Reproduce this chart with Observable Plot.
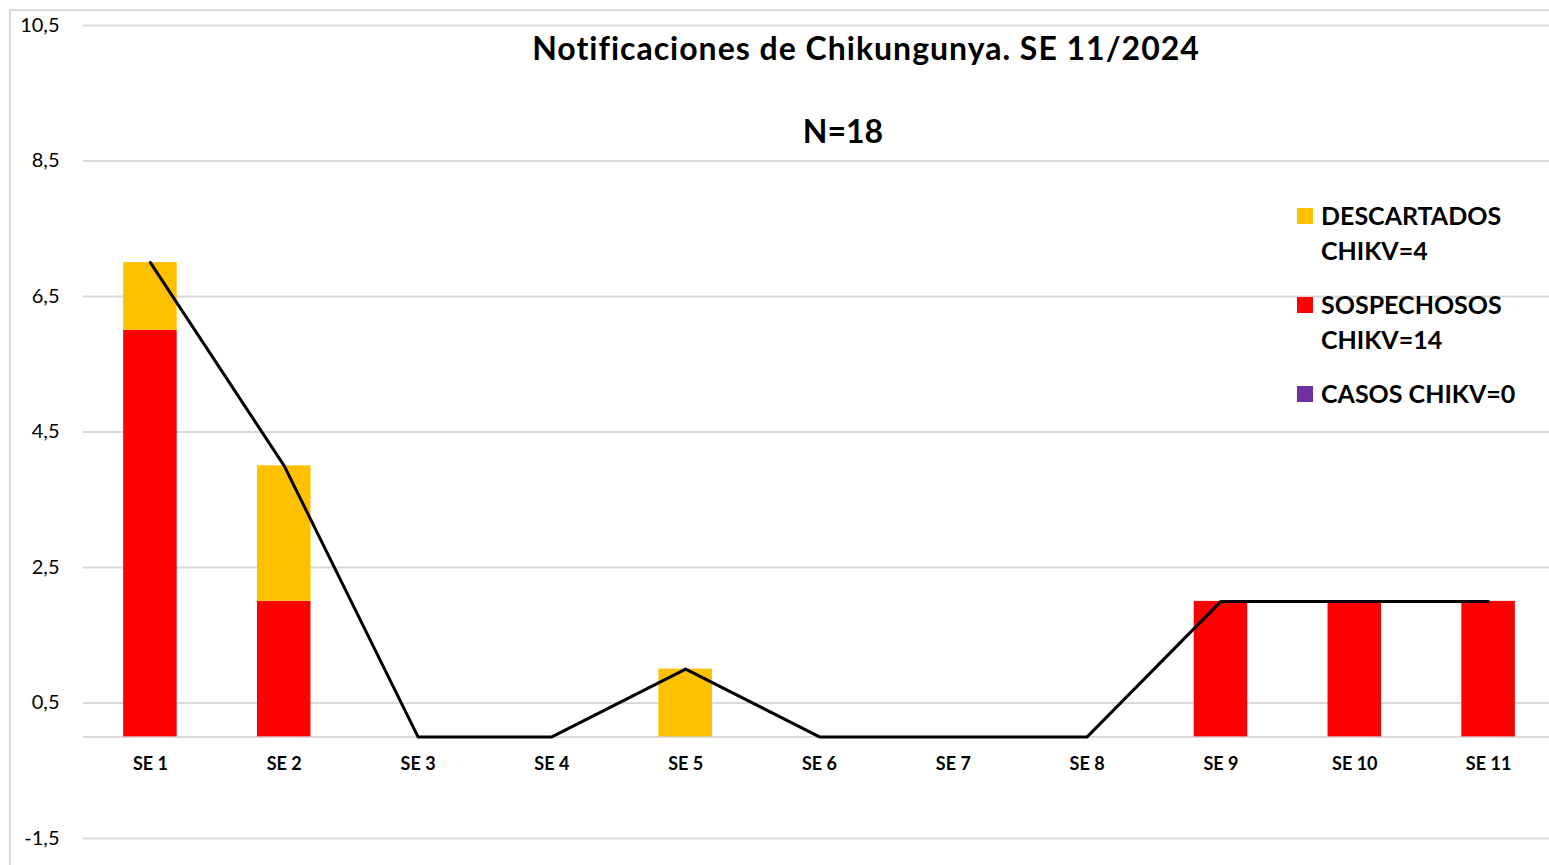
<!DOCTYPE html>
<html>
<head>
<meta charset="utf-8">
<script src="https://cdn.jsdelivr.net/npm/d3@7"></script>
<script src="https://cdn.jsdelivr.net/npm/@observablehq/plot@0.6"></script>
<style>
  html, body { margin: 0; padding: 0; background: #fff; overflow: hidden; }
  #wrap { position: relative; width: 1549px; height: 865px; }
  #border { position: absolute; left: 9px; top: 9px; width: 1600px; height: 900px;
            border-left: 2px solid #d9d9d9; border-top: 2px solid #d9d9d9; box-sizing: border-box; }
  #chart { position: absolute; left: 0; top: 0; }
</style>
</head>
<body>
<div id="wrap"><div id="border"></div><div id="chart"></div></div>
<script>
const weeks = ["SE 1","SE 2","SE 3","SE 4","SE 5","SE 6","SE 7","SE 8","SE 9","SE 10","SE 11"];
const sospechosos = [6, 2, 0, 0, 0, 0, 0, 0, 2, 2, 2];
const descartados = [1, 2, 0, 0, 1, 0, 0, 0, 0, 0, 0];
const casos       = [0, 0, 0, 0, 0, 0, 0, 0, 0, 0, 0];
const yTicks = [-1.5, 0.5, 2.5, 4.5, 6.5, 8.5, 10.5];
const seriesKeys = ["SOSPECHOSOS", "DESCARTADOS", "CASOS"];
const seriesColors = ["#ff0000", "#ffc000", "#7030a0"];
const legendItems = [
  {key: "DESCARTADOS", lines: ["DESCARTADOS", "CHIKV=4"]},
  {key: "SOSPECHOSOS", lines: ["SOSPECHOSOS", "CHIKV=14"]},
  {key: "CASOS", lines: ["CASOS CHIKV=0"]}
];
const titleText = "Notificaciones de Chikungunya. SE 11/2024";
const subtitleText = "N=18";

const long = weeks.flatMap((w, i) => [
  {week: w, series: "SOSPECHOSOS", value: sospechosos[i]},
  {week: w, series: "DESCARTADOS", value: descartados[i]},
  {week: w, series: "CASOS", value: casos[i]}
]);
const totals = weeks.map((w, i) => ({week: w, total: sospechosos[i] + descartados[i] + casos[i]}));
const fmt = d => d.toFixed(1).replace(".", ",");

const chart = Plot.plot({
  width: 1549,
  height: 865,
  marginTop: 25,
  marginBottom: 27,
  marginLeft: 83,
  marginRight: 0,
  style: {fontFamily: "Lato, 'Open Sans', sans-serif", background: "transparent", overflow: "visible"},
  x: {domain: weeks, range: [83, 1555], paddingInner: 0.6, paddingOuter: 0.3, align: 0.5, round: false},
  y: {domain: [-1.5, 10.5]},
  color: {domain: seriesKeys, range: seriesColors},
  marks: [
    Plot.ruleY(yTicks, {stroke: "#d9d9d9", strokeWidth: 2}),
    Plot.ruleY([0], {stroke: "#d9d9d9", strokeWidth: 2}),
    Plot.barY(long, {x: "week", y: "value", fill: "series", order: seriesKeys}),
    Plot.lineY(totals, {x: "week", y: "total", stroke: "#000", strokeWidth: 3}),
    Plot.axisY({ticks: yTicks, tickFormat: fmt, tickSize: 0, tickPadding: 24, fontSize: 20, fill: "#000", label: null}),
    Plot.axisX({tickSize: 0, tickPadding: 0, dy: -81, fontSize: 18, fontWeight: "bold", fill: "#000", label: null})
  ]
});
document.getElementById("chart").appendChild(chart);

const svg = d3.select(chart);
svg.append("text")
  .attr("x", 866).attr("y", 60)
  .attr("text-anchor", "middle")
  .attr("font-family", "Lato, sans-serif").attr("font-weight", "bold").attr("font-size", 32)
  .attr("letter-spacing", 1)
  .attr("fill", "#000")
  .text(titleText);
svg.append("text")
  .attr("x", 843).attr("y", 143)
  .attr("text-anchor", "middle")
  .attr("font-family", "Lato, sans-serif").attr("font-weight", "bold").attr("font-size", 32)
  .attr("fill", "#000")
  .text(subtitleText);

const legendTops = [208, 297, 386];
const lg = svg.append("g").attr("font-family", "Lato, sans-serif").attr("font-weight", "bold")
  .attr("font-size", 25).attr("fill", "#000").attr("text-anchor", "start");
legendItems.forEach((item, i) => {
  const top = legendTops[i];
  lg.append("rect").attr("x", 1297).attr("y", top).attr("width", 16).attr("height", 16)
    .attr("fill", seriesColors[seriesKeys.indexOf(item.key)]);
  item.lines.forEach((ln, j) => {
    lg.append("text").attr("x", 1321).attr("y", top + 17 + j * 35).attr("text-anchor", "start").text(ln);
  });
});
</script>
</body>
</html>
